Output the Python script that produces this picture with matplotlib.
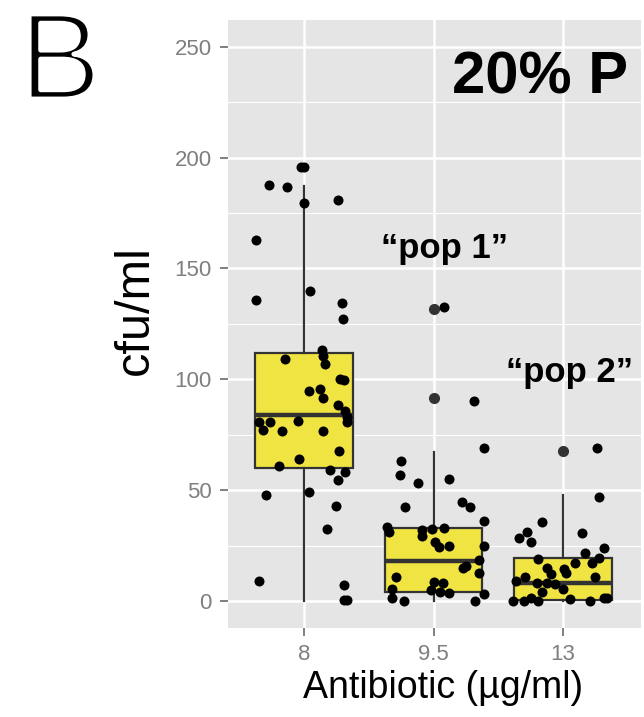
import numpy as np
import matplotlib
matplotlib.use('Agg')
import matplotlib.pyplot as plt
import matplotlib.patheffects as pe
from matplotlib.ticker import MultipleLocator

plt.rcParams['font.family'] = ['Liberation Sans', 'DejaVu Sans']

doses = ['8', '9.5', '13']

# cfu/ml values and the horizontal jitter
cfu_8 = [196, 196, 187.6, 186.8, 179.5, 181, 163, 140, 136, 134.5, 127, 113, 110.5, 107, 109,
         100, 99.7, 94.7, 95.6, 91.6, 88.4, 85.7, 83, 80.7, 80.7, 80.7, 81, 77, 76.7, 76.7,
         67.7, 64, 61, 59, 58, 54.5, 48, 49, 43, 32.5, 9, 7, 0.5, 0.5]
jit_8 = [-0.02, 0.0, -0.27, -0.13, 0.0, 0.26, -0.37, 0.05, -0.37, 0.29, 0.30, 0.14, 0.15, 0.16, -0.15,
         0.28, 0.31, 0.04, 0.12, 0.15, 0.26, 0.32, 0.33, 0.33, -0.35, -0.26, -0.05, -0.32, -0.17, 0.15,
         0.27, -0.04, -0.19, 0.20, 0.32, 0.26, -0.29, 0.04, 0.25, 0.18, -0.35, 0.31, 0.31, 0.33]

cfu_95 = [132.6, 90.2, 69, 63, 57, 53, 55, 42.4, 44.7, 42.4, 36, 33.4, 31, 32, 29.3, 32.5, 33,
          26.6, 24.4, 25, 25, 18.5, 14.9, 15.8, 12.6, 10.8, 5.4, 1.4, 0, 8.6, 5, 8, 4, 3.6, 3.2, 0]
jit_95 = [0.08, 0.31, 0.39, -0.25, -0.26, -0.12, 0.12, -0.22, 0.22, 0.28, 0.39, -0.36, -0.34, -0.09,
          -0.09, -0.01, 0.08, 0.01, 0.04, 0.12, 0.39, 0.35, 0.23, 0.25, 0.35, -0.29, -0.32, -0.32,
          -0.23, 0.0, -0.02, 0.07, 0.05, 0.12, 0.39, 0.32]

cfu_13 = [69, 47, 35.6, 31, 28.4, 26.6, 30.7, 24, 21.6, 19, 19.4, 17, 17, 14.9, 12.2, 14.4, 12.6,
          10.8, 9, 10.8, 8, 8.2, 7.7, 5.4, 4, 0, 0, 1.3, 0, 0.9, 0, 1.3, 1.3]
jit_13 = [0.26, 0.28, -0.16, -0.28, -0.34, -0.25, 0.15, 0.32, 0.17, -0.19, 0.28, 0.22, 0.09, -0.12,
          -0.09, 0.01, 0.02, -0.29, -0.36, 0.25, -0.2, -0.12, -0.06, 0.0, -0.16, -0.39, -0.3, -0.25,
          -0.19, 0.05, 0.21, 0.32, 0.34]

# box summaries
q1 = [60, 4, 0.5]
med = [84, 18, 8]
q3 = [112, 33, 19.5]
whis_lo = [0, 0, 0]
whis_hi = [187, 67, 48]
outliers = [[], [91.6, 131.7], [67.7]]

fig = plt.figure(figsize=(6.44, 7.17), dpi=100)
ax = fig.add_axes([228 / 644, 89 / 717, 413 / 644, 608 / 717])
ax.set_facecolor('#E5E5E5')

pos = np.arange(1, len(doses) + 1)
stats = []
for i in range(len(doses)):
    stats.append(dict(q1=q1[i], med=med[i], q3=q3[i], whislo=whis_lo[i], whishi=whis_hi[i],
                      fliers=outliers[i]))
ax.bxp(stats, positions=pos, widths=0.75, patch_artist=True, showcaps=False,
       boxprops=dict(facecolor='#F0E442', edgecolor='#333333', linewidth=1.6),
       medianprops=dict(color='#333333', linewidth=3.2),
       whiskerprops=dict(color='#333333', linewidth=1.6),
       flierprops=dict(marker='o', markerfacecolor='#333333', markeredgecolor='#333333',
                       markersize=7),
       zorder=2)

for p, vals, jit in zip(pos, [cfu_8, cfu_95, cfu_13], [jit_8, jit_95, jit_13]):
    ax.scatter(p + np.array(jit), vals, s=52, color='black', linewidths=0, zorder=3)

ax.set_xlim(0.413, 3.602)
ax.set_ylim(-12.2, 262.1)
ax.set_xticks(pos)
ax.set_xticklabels(doses)
ax.yaxis.set_major_locator(MultipleLocator(50))
ax.yaxis.set_minor_locator(MultipleLocator(25))
ax.grid(which='major', color='white', linewidth=1.8, zorder=0)
ax.grid(which='minor', axis='y', color='white', linewidth=0.8, zorder=0)
ax.set_axisbelow(True)
for s in ax.spines.values():
    s.set_visible(False)
ax.tick_params(which='major', length=5.8, width=1.4, color='#7f7f7f', labelcolor='#7f7f7f',
               labelsize=16, pad=6)
ax.tick_params(which='minor', length=0)

fig.text(135 / 644, 1 - 310 / 717, 'cfu/ml', rotation=90, ha='center', va='center', fontsize=35)
fig.text(443 / 644, 1 - 698 / 717, 'Antibiotic (µg/ml)', ha='center', va='baseline', fontsize=27)
# panel letter: regular weight thinned with a white outline to look like a light face
fig.text(19 / 644, 1 - 99 / 717, 'B', ha='left', va='baseline', fontsize=89,
         path_effects=[pe.Normal(), pe.Stroke(linewidth=3.5, foreground='white')])

ax.text(2.822, 229, '20% P', ha='center', va='baseline', fontsize=43, weight='bold')
ax.text(2.089, 154.7, '\u201cpop 1\u201d', ha='center', va='baseline', fontsize=25, weight='bold')
ax.text(3.054, 98.8, '\u201cpop 2\u201d', ha='center', va='baseline', fontsize=25, weight='bold')

plt.savefig('out.png', dpi=100)
